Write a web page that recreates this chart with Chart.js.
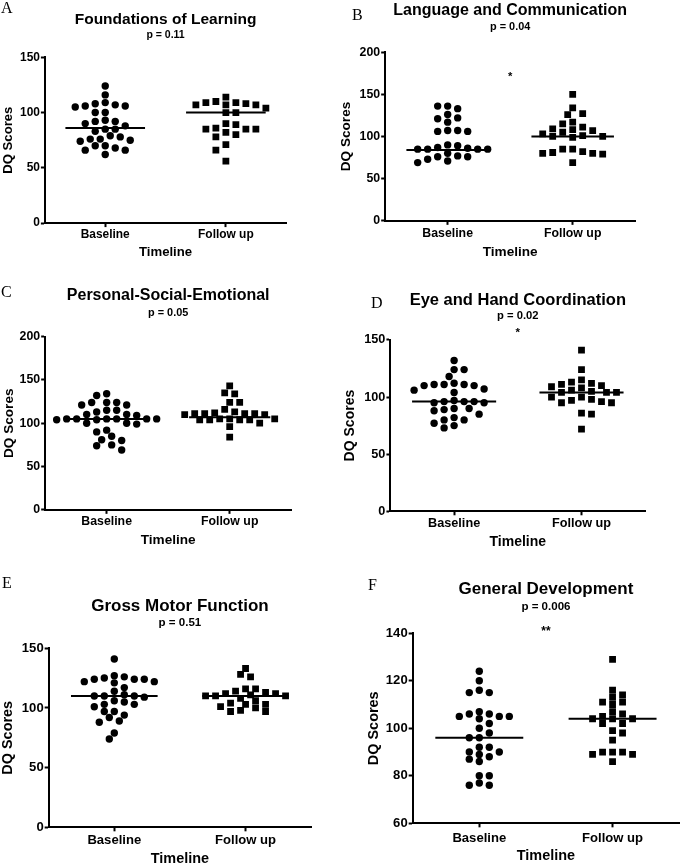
<!DOCTYPE html>
<html lang="en">
<head>
<meta charset="UTF-8">
<title>DQ Scores - Baseline vs Follow up</title>
<script src="https://cdn.jsdelivr.net/npm/chart.js@4.4.1/dist/chart.umd.min.js"></script>
<style>
  body { margin: 0; background: #fff; }
  #page { position: relative; width: 683px; height: 865px; overflow: hidden; background: #fff; }
  #page canvas { position: absolute; }
  .letter { position: absolute; font-family: "Liberation Serif", "Times New Roman", serif; font-size: 16px; line-height: 16px; color: #000; }
</style>
</head>
<body>
<div id="page"></div>
<script>
// categories
const groups = ['Baseline', 'Follow up'];

// A - Foundations of Learning
const learningBaseline = [124, 116, 108, 106, 105, 106, 107, 109, 100, 100, 93, 92, 92, 90, 88, 85, 83, 85, 79, 78, 76, 75, 74, 76, 70, 66, 62, 66, 68, 70];
const learningFollowUp = [114, 110, 109, 109, 108, 107, 107, 107, 104, 100, 100, 90, 89, 86, 85, 85, 85, 82, 80, 78, 71, 66, 56];
const learningLines = [86, 100];

// B - Language and Communication
const languageBaseline = [136, 136, 133, 126, 122, 121, 117, 107, 106, 106, 107, 90, 89, 87, 86, 85, 85, 85, 85, 80, 77, 76, 76, 73, 71, 69];
const languageFollowUp = [150, 134, 127, 126, 117, 115, 111, 109, 108, 107, 105, 103, 101, 100, 100, 99, 85, 85, 82, 81, 80, 80, 79, 69];
const languageLines = [84, 100];

// C - Personal-Social-Emotional
const socialBaseline = [134, 132, 124, 124, 124, 121, 121, 115, 115, 113, 110, 110, 109, 105, 105, 105, 105, 105, 105, 104, 104, 100, 99, 100, 92, 90, 85, 81, 80, 75, 74, 69];
const socialFollowUp = [143, 135, 134, 124, 124, 116, 113, 112, 111, 111, 111, 111, 110, 110, 105, 105, 105, 104, 104, 104, 104, 100, 96, 84];
const socialLines = [105, 107];

// D - Eye and Hand Coordination
const eyeHandBaseline = [132, 124, 124, 118, 112, 111, 111, 111, 110, 110, 107, 106, 104, 97, 96, 96, 96, 95, 95, 90, 90, 89, 88, 85, 82, 80, 80, 77, 75, 73];
const eyeHandFollowUp = [141, 124, 115, 113, 112, 111, 110, 109, 108, 106, 105, 104, 104, 104, 100, 100, 98, 97, 96, 95, 95, 86, 85, 72];
const eyeHandLines = [96, 104];

// E - Gross Motor Function
const motorBaseline = [141, 127, 126, 125, 124, 124, 124, 122, 122, 121, 117, 114, 111, 110, 110, 110, 109, 106, 105, 103, 103, 101, 97, 97, 94, 92, 89, 88, 79, 74];
const motorFollowUp = [133, 128, 126, 116, 116, 114, 113, 112, 112, 111, 110, 110, 110, 108, 106, 104, 103, 103, 101, 100, 98, 97, 97];
const motorLines = [110, 110];

// F - General Development
const generalBaseline = [124, 120, 116, 115, 115, 107, 106, 106, 105, 105, 105, 104, 102, 100, 98, 96, 96, 92, 92, 90, 90, 89, 88, 87, 86, 80, 80, 77, 76, 76];
const generalFollowUp = [129, 116, 114, 113, 111, 111, 110, 107, 106, 105, 104, 104, 104, 102, 102, 99, 98, 95, 90, 90, 90, 89, 89, 86];
const generalLines = [96, 104];

const HALF_STEP = 5;   // px, horizontal grid for the dot swarm
const GAP_X = 9.5;     // px, dots closer than this sideways ...
const GAP_Y = 7;       // px, ... and this vertically are moved apart
const LINE_HALF = 0.33;

const panels = [
  { letter: 'A', lx: 1, ly: 0, title: 'Foundations of Learning', p: 'p = 0.11', fs: 15.5,
    plot: {l: 45, r: 288, t: 57, b: 223}, yTitleX: 8, titleY: 19, subY: 35, labelY: 235, xTitleY: 252,
    yMin: 0, yMax: 150, yStep: 50, base: learningBaseline, follow: learningFollowUp, lines: learningLines },
  { letter: 'B', lx: 352, ly: 7, title: 'Language and Communication', p: 'p = 0.04', fs: 16,
    plot: {l: 385, r: 637, t: 52, b: 221}, yTitleX: 346, titleY: 10.5, subY: 27, labelY: 233.5, xTitleY: 252,
    yMin: 0, yMax: 200, yStep: 50, base: languageBaseline, follow: languageFollowUp, lines: languageLines,
    star: {text: '*', y: 170} },
  { letter: 'C', lx: 1, ly: 284, title: 'Personal-Social-Emotional', p: 'p = 0.05', fs: 16,
    plot: {l: 45, r: 293, t: 337, b: 510}, yTitleX: 9, titleY: 296, subY: 313.5, labelY: 522, xTitleY: 540,
    yMin: 0, yMax: 200, yStep: 50, base: socialBaseline, follow: socialFollowUp, lines: socialLines },
  { letter: 'D', lx: 371, ly: 295, title: 'Eye and Hand Coordination', p: 'p = 0.02', fs: 16.5,
    plot: {l: 390, r: 647, t: 340, b: 511.7}, yTitleX: 350, titleY: 301, subY: 316.5, labelY: 523.5, xTitleY: 543,
    yMin: 0, yMax: 150, yStep: 50, base: eyeHandBaseline, follow: eyeHandFollowUp, lines: eyeHandLines,
    star: {text: '*', y: 156} },
  { letter: 'E', lx: 2, ly: 575, title: 'Gross Motor Function', p: 'p = 0.51', fs: 17,
    plot: {l: 49, r: 313, t: 648, b: 827}, yTitleX: 8, titleY: 606, subY: 623, labelY: 840, xTitleY: 859,
    yMin: 0, yMax: 150, yStep: 50, base: motorBaseline, follow: motorFollowUp, lines: motorLines },
  { letter: 'F', lx: 368, ly: 577, title: 'General Development', p: 'p = 0.006', fs: 17,
    plot: {l: 413, r: 681, t: 633, b: 823}, yTitleX: 374, titleY: 589, subY: 607, labelY: 838, xTitleY: 856,
    yMin: 60, yMax: 140, yStep: 20, base: generalBaseline, follow: generalFollowUp, lines: generalLines,
    star: {text: '**', y: 140.7} }
];

Chart.defaults.font.family = '"Liberation Sans", Arial, sans-serif';
Chart.defaults.color = '#000';

// spread dots sideways so they don't overlap (Prism-style scatter dot plot)
function swarm(values, center, xs, ys) {
  const unit = xs.getPixelForValue(1) - xs.getPixelForValue(0);
  const placed = [];
  const pts = [];
  const order = values.map((v, i) => i).sort((a, b) => values[b] - values[a]);
  const clash = (x, y) => placed.some(q => ((q.x - x) / GAP_X) ** 2 + ((q.y - y) / GAP_Y) ** 2 < 1);
  order.forEach((i, n) => {
    const py = ys.getPixelForValue(values[i]);
    let dx = null;
    for (let k = 0; dx === null; k++) {
      const cands = k === 0 ? [0] : (n % 2 ? [-k, k] : [k, -k]);
      for (const c of cands) {
        if (!clash(c * HALF_STEP, py)) { dx = c * HALF_STEP; break; }
      }
    }
    placed.push({x: dx, y: py});
    pts[i] = {x: center + dx / unit, y: values[i]};
  });
  return pts;
}

function makePanel(p) {
  const page = document.getElementById('page');
  const lh = s => s * 1.2;
  const titleSize = p.fs, subSize = p.fs * 0.68, tickSize = p.fs * 0.77, axSize = p.fs * 0.85;

  const left = p.yTitleX - lh(axSize) / 2;
  const top = p.titleY - lh(titleSize) / 2 - 1;
  const right = p.plot.r + 3;
  const bottom = p.xTitleY + lh(axSize) / 2;
  const yWidth = p.plot.l - left;
  const xHeight = bottom - p.plot.b;
  const tickLen = 4;

  const canvas = document.createElement('canvas');
  canvas.width = Math.round(right - left);
  canvas.height = Math.round(bottom - top);
  canvas.style.left = left + 'px';
  canvas.style.top = top + 'px';
  page.appendChild(canvas);

  const letter = document.createElement('div');
  letter.className = 'letter';
  letter.textContent = p.letter;
  letter.style.left = p.lx + 'px';
  letter.style.top = p.ly + 'px';
  page.appendChild(letter);

  const starPlugin = {
    id: 'stars',
    afterDatasetsDraw(chart) {
      if (!p.star) return;
      const ctx = chart.ctx;
      ctx.save();
      ctx.font = 'bold ' + (p.fs * 0.7) + 'px "Liberation Sans", Arial, sans-serif';
      ctx.fillStyle = '#000';
      ctx.textAlign = 'center';
      ctx.textBaseline = 'middle';
      ctx.fillText(p.star.text, chart.scales.x.getPixelForValue(1.5), chart.scales.y.getPixelForValue(p.star.y));
      ctx.restore();
    }
  };

  const lineSet = (cx, v) => ({
    type: 'line', data: [{x: cx - LINE_HALF, y: v}, {x: cx + LINE_HALF, y: v}],
    borderColor: '#000', borderWidth: 2, pointRadius: 0, fill: false
  });

  const chart = new Chart(canvas, {
    type: 'scatter',
    data: {
      datasets: [
        { label: groups[0], data: p.base.map(v => ({x: 1, y: v})), pointStyle: 'circle',
          pointRadius: 3.7, backgroundColor: '#000', borderWidth: 0 },
        { label: groups[1], data: p.follow.map(v => ({x: 2, y: v})), pointStyle: 'rect',
          pointRadius: 4.8, backgroundColor: '#000', borderWidth: 0 },
        lineSet(1, p.lines[0]),
        lineSet(2, p.lines[1])
      ]
    },
    options: {
      responsive: false,
      animation: false,
      devicePixelRatio: 1,
      layout: { padding: { left: 0, right: 3, top: 0, bottom: 0 } },
      plugins: {
        legend: { display: false },
        tooltip: { enabled: false },
        title: { display: true, text: p.title, fullSize: false,
                 font: { size: titleSize, weight: 'bold' }, padding: { top: 1, bottom: 0 } },
        subtitle: { display: true, text: p.p, fullSize: false,
                    font: { size: subSize, weight: 'bold' },
                    padding: { top: p.subY - p.titleY - lh(titleSize) / 2 - lh(subSize) / 2,
                               bottom: p.plot.t - p.subY - lh(subSize) / 2 } }
      },
      scales: {
        x: {
          type: 'linear', min: 0.5, max: 2.5,
          afterBuildTicks: s => { s.ticks = [{value: 1}, {value: 2}]; },
          afterFit: s => { s.height = xHeight; },
          ticks: { autoSkip: false, maxRotation: 0, padding: p.labelY - p.plot.b - tickLen - lh(tickSize) / 2,
                   font: { size: tickSize, weight: 'bold' },
                   callback: v => v === 1 ? groups[0] : groups[1] },
          grid: { drawOnChartArea: false, drawTicks: true, tickLength: tickLen, tickWidth: 2, tickColor: '#000' },
          border: { display: true, color: '#000', width: 2 },
          title: { display: true, text: 'Timeline', font: { size: axSize, weight: 'bold' }, padding: 0 }
        },
        y: {
          min: p.yMin, max: p.yMax,
          afterFit: s => { s.width = yWidth; },
          ticks: { stepSize: p.yStep, padding: 1, font: { size: tickSize, weight: 'bold' } },
          grid: { drawOnChartArea: false, drawTicks: true, tickLength: tickLen, tickWidth: 2, tickColor: '#000' },
          border: { display: true, color: '#000', width: 2 },
          title: { display: true, text: 'DQ Scores', font: { size: axSize, weight: 'bold' }, padding: 0 }
        }
      }
    },
    plugins: [starPlugin]
  });

  const xs = chart.scales.x, ys = chart.scales.y;
  chart.data.datasets[0].data = swarm(p.base, 1, xs, ys);
  chart.data.datasets[1].data = swarm(p.follow, 2, xs, ys);
  chart.update('none');
}

panels.forEach(makePanel);
</script>
</body>
</html>
